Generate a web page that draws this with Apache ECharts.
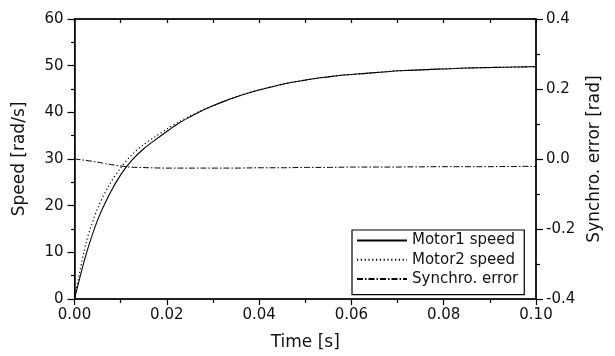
<!DOCTYPE html>
<html>
<head>
<meta charset="utf-8">
<script src="https://cdn.jsdelivr.net/npm/echarts@6/dist/echarts.min.js"></script>
<style>
  html, body { margin: 0; padding: 0; background: #fff; }
  #main { width: 615px; height: 356px; }
</style>
</head>
<body>
<div id="main"></div>
<script>
// time samples [s]
const time = [0, 0.0025, 0.005, 0.0075, 0.01, 0.0125, 0.015, 0.0175, 0.02, 0.0225,
              0.025, 0.0275, 0.03, 0.0325, 0.035, 0.0375, 0.04, 0.0425, 0.045, 0.0475,
              0.05, 0.0525, 0.055, 0.0575, 0.06, 0.0625, 0.065, 0.0675, 0.07, 0.0725,
              0.075, 0.0775, 0.08, 0.0825, 0.085, 0.0875, 0.09, 0.0925, 0.095, 0.0975, 0.1];
// speeds [rad/s]
const motor1 = [0, 9.5, 16.9, 22.3, 26.6, 29.8, 32.2, 34.1, 35.9, 37.6,
                39.0, 40.3, 41.4, 42.4, 43.3, 44.1, 44.8, 45.4, 46.0, 46.5,
                46.9, 47.3, 47.6, 47.9, 48.1, 48.3, 48.5, 48.7, 48.9, 49.0,
                49.1, 49.2, 49.3, 49.4, 49.5, 49.55, 49.6, 49.65, 49.7, 49.75, 49.8];
const motor2 = [0, 12.0, 19.4, 24.4, 28.1, 31.0, 33.1, 34.8, 36.4, 37.9,
                39.2, 40.4, 41.4, 42.4, 43.3, 44.1, 44.8, 45.4, 46.0, 46.5,
                46.9, 47.3, 47.6, 47.9, 48.1, 48.3, 48.5, 48.7, 48.9, 49.0,
                49.1, 49.2, 49.3, 49.4, 49.5, 49.55, 49.6, 49.65, 49.7, 49.75, 49.8];
// synchronisation error [rad]
const syncErr = [0, -0.004, -0.009, -0.015, -0.020, -0.0235, -0.0245, -0.0255, -0.026, -0.026,
                 -0.026, -0.026, -0.026, -0.026, -0.026, -0.0255, -0.025, -0.025, -0.025, -0.0245,
                 -0.024, -0.024, -0.024, -0.0235, -0.023, -0.023, -0.023, -0.023, -0.023, -0.0225,
                 -0.0225, -0.022, -0.022, -0.022, -0.022, -0.022, -0.022, -0.0215, -0.0215, -0.021, -0.021];

const pairs = arr => time.map((t, i) => [t, arr[i]]);

const font = 'DejaVu Sans';
const ink = '#000';

const chart = echarts.init(document.getElementById('main'), null, { renderer: 'canvas' });

const axisCommon = {
    axisLine: { show: true, onZero: false, lineStyle: { color: ink, width: 1.5 } },
    splitLine: { show: false },
    minorSplitLine: { show: false },
    nameTextStyle: { fontFamily: font, fontSize: 17, color: '#111' },
    axisLabel: { fontFamily: font, fontSize: 15, color: '#111' }
};

chart.setOption({
    animation: false,
    backgroundColor: '#fff',
    grid: { left: 74.5, right: 79, top: 19, bottom: 57, show: true, borderColor: ink, borderWidth: 1 },
    legend: {
        orient: 'vertical',
        left: 352,
        top: 230,
        padding: [3, 6, 8, 4],
        itemWidth: 50,
        itemHeight: 14,
        itemGap: 4.3,
        borderColor: ink,
        borderWidth: 1.2,
        itemStyle: { opacity: 0 },
        textStyle: { fontFamily: font, fontSize: 15, color: '#111' },
        data: ['Motor1 speed', 'Motor2 speed', 'Synchro. error']
    },
    xAxis: [
        Object.assign({}, axisCommon, {
            type: 'value', min: 0, max: 0.1, interval: 0.02,
            name: 'Time [s]', nameLocation: 'middle', nameGap: 35,
            axisTick: { inside: false, length: 6, lineStyle: { color: ink, width: 1.2 } },
            minorTick: { show: true, splitNumber: 2, length: 4, lineStyle: { color: ink, width: 1.2 } },
            axisLabel: Object.assign({}, axisCommon.axisLabel, { margin: 9, formatter: v => v.toFixed(2) })
        }),
        Object.assign({}, axisCommon, {
            type: 'value', min: 0, max: 0.1, interval: 0.02, position: 'top',
            axisTick: { inside: true, length: 4, lineStyle: { color: ink, width: 1.2 } },
            minorTick: { show: true, splitNumber: 2, length: 4, lineStyle: { color: ink, width: 1.2 } },
            axisLabel: { show: false }
        })
    ],
    yAxis: [
        Object.assign({}, axisCommon, {
            type: 'value', min: 0, max: 60, interval: 10,
            name: 'Speed [rad/s]', nameLocation: 'middle', nameGap: 46,
            axisTick: { inside: false, length: 7, lineStyle: { color: ink, width: 1.2 } },
            minorTick: { show: true, splitNumber: 2, length: 3.5, lineStyle: { color: ink, width: 1.2 } },
            axisLabel: Object.assign({}, axisCommon.axisLabel, { margin: 11 })
        }),
        Object.assign({}, axisCommon, {
            type: 'value', min: -0.4, max: 0.4, interval: 0.2, position: 'right',
            name: 'Synchro. error [rad]', nameLocation: 'middle', nameGap: 48,
            axisTick: { inside: false, length: 7, lineStyle: { color: ink, width: 1.2 } },
            minorTick: { show: true, splitNumber: 2, length: 4, lineStyle: { color: ink, width: 1.2 } },
            axisLabel: Object.assign({}, axisCommon.axisLabel, {
                margin: 10,
                formatter: v => (Math.abs(v) < 1e-9 ? 0 : v).toFixed(1)
            })
        })
    ],
    series: [
        {
            name: 'Motor1 speed', type: 'line', xAxisIndex: 0, yAxisIndex: 0,
            smooth: 0.3, symbol: 'none', data: pairs(motor1),
            lineStyle: { color: ink, width: 1.1, type: 'solid' }, itemStyle: { color: ink }
        },
        {
            name: 'Motor2 speed', type: 'line', xAxisIndex: 0, yAxisIndex: 0,
            smooth: 0.3, symbol: 'none', data: pairs(motor2),
            lineStyle: { color: ink, width: 1.2, type: [1.2, 2.6] }, itemStyle: { color: ink }
        },
        {
            name: 'Synchro. error', type: 'line', xAxisIndex: 0, yAxisIndex: 1,
            smooth: 0.3, symbol: 'none', data: pairs(syncErr),
            lineStyle: { color: ink, width: 1, type: [6, 2, 1.5, 2] }, itemStyle: { color: ink }
        }
    ]
});
</script>
</body>
</html>
